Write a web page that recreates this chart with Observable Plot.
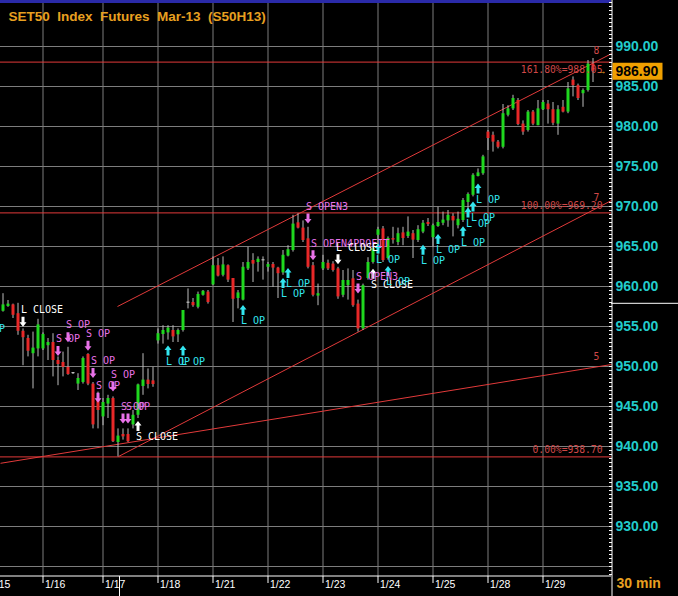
<!DOCTYPE html>
<html><head><meta charset="utf-8">
<script src="https://cdn.jsdelivr.net/npm/d3@7"></script>
<script src="https://cdn.jsdelivr.net/npm/@observablehq/plot@0.6"></script>
<style>
html,body{margin:0;padding:0;background:#000;}
#chart{width:678px;height:596px;overflow:hidden;background:#000;}
</style></head><body><div id="chart"></div>
<script>
// ---- data (30-min bars, index 0 = first visible bar) ----
const opens  = [956.9,957.5,957.7,956.6,954.4,953.5,951.6,952.2, 952.2,952.6,953.0,950.75,950.5,949.9,949.1,947.8,948.0,951.5,947.8,945.75, 943.7,945.3,946.0,940.5,941.5,941.5,942.7,943.9,947.5,948.3,948.2, 953.2,954.0,954.2,954.5,953.96,954.5,957.9,958.0,957.4,958.9,959.3, 960.2,962.6,961.4,962.6,961.0,958.5,958.3,962.2,963.25,963.0,963.2, 962.4,962.75,962.3,961.7,963.8,964.5,967.96,967.3,965.96,962.6,958.8, 962.2,962.9,962.8,962.2,958.9,960.1,960.96,957.8,954.7,961.0,963.0, 966.4,967.2,963.5,966.0,965.5,966.7,966.25,966.6,965.75,966.8,968.0, 966.1,967.5,967.9,968.2,968.75,967.6,968.25,970.5,971.4,973.75,974.1, 979.3,978.9,978.05,977.4,981.4,982.2,983.25,980.3,979.5,981.8,980.1, 982.1,982.8,982.1,980.3,982.4,981.8,985.8,985.1,984.1,984.5,987.8];
const highs  = [959.1,958.25,957.8,957.9,954.7,953.9,954.3,955.9, 954.2,953.5,954.1,951.2,951.8,952.4,949.2,949.1,951.2,951.6,948.0,946.8, 946.0,946.4,946.2,942.2,942.2,942.2,944.5,947.8,951.6,949.7,949.9, 954.7,955.1,955.1,955.1,954.7,957.0,959.7,958.5,959.3,959.5,959.5, 963.7,963.5,963.7,962.7,961.0,959.5,963.0,964.9,964.1,963.7,963.7, 963.0,963.0,962.4,964.5,965.1,968.9,969.1,968.2,967.4,963.0,960.3, 963.9,963.3,963.1,962.4,962.0,962.2,962.0,958.3,960.3,963.6,965.0, 967.4,967.5,966.2,967.4,967.3,967.4,968.7,967.0,967.6,968.25,968.5, 967.8,969.9,969.3,969.5,969.1,969.3,971.0,971.7,974.1,974.7,976.4, 979.5,979.3,978.25,982.75,982.6,983.9,983.5,980.7,982.0,982.0,983.25, 983.25,983.25,983.0,982.6,983.25,985.5,986.2,985.3,984.7,988.25,988.5];
const lows   = [956.8,957.4,956.0,953.9,950.1,951.2,947.2,951.2, 952.0,950.75,948.7,947.6,948.7,948.9,949.0,947.0,947.8,947.6,942.2,942.2, 942.6,943.5,940.5,938.7,940.8,940.5,942.2,943.5,946.4,947.2,947.4, 952.8,952.8,953.3,953.0,953.0,954.3,957.2,957.4,957.2,958.8,957.8, 960.1,961.2,961.2,960.5,955.5,957.2,958.2,962.0,960.5,961.8,960.8, 961.8,959.9,958.5,961.4,963.7,964.3,967.2,965.5,962.2,958.7,957.6, 962.0,962.0,961.8,958.4,958.6,958.3,957.4,954.3,954.5,960.8,962.8, 964.9,963.0,963.3,965.3,965.1,965.1,966.0,963.5,965.5,966.6,967.5, 964.9,967.4,967.6,967.4,966.2,967.2,968.0,969.3,971.2,973.7,973.9, 977.0,976.8,977.2,977.2,981.2,982.0,980.1,978.9,979.3,980.1,980.1, 982.0,980.3,980.1,978.9,981.7,981.6,983.7,983.25,982.4,984.3,985.5];
const closes = [957.7,957.8,956.4,954.4,953.6,951.9,952.3,955.2, 954.0,953.0,950.75,950.25,949.9,949.0,949.1,948.5,951.0,947.8,942.7,944.5, 945.5,946.0,940.6,941.3,941.2,940.6,943.9,947.7,948.3,947.75,947.75, 954.1,954.5,954.8,953.7,954.5,957.0,957.9,957.6,959.0,959.4,958.0, 962.6,961.3,962.7,960.8,958.4,959.2,962.4,963.0,962.8,963.4,963.2, 962.75,962.3,961.6,963.9,964.6,967.8,967.3,965.75,962.4,958.9,959.1, 963.0,962.2,962.0,958.7,960.75,960.75,957.6,954.7,960.1,963.0,964.7, 967.1,963.25,966.0,965.8,966.6,966.0,966.8,965.8,967.1,967.9,967.75, 967.6,968.0,968.3,968.9,968.2,968.4,970.75,971.5,973.9,974.2,976.2, 978.5,978.05,977.4,981.6,982.2,983.5,980.25,979.3,981.8,980.3,982.2, 983.0,982.1,980.4,982.1,981.8,984.7,985.1,983.5,984.5,987.8,986.9];

const dayLabels   = ["1/15","1/16","1/17","1/18","1/21","1/22","1/23","1/24","1/25","1/28","1/29"];
const dayStartIdx = [-3, 8, 20, 31, 42, 53, 64, 75, 86, 97, 108];

const gridTicks  = [925,930,935,940,945,950,955,960,965,970,975,980,985,990];
const labelTicks = [930,935,940,945,950,955,960,965,970,975,980,985,990];

const fibLow = 938.70, fibHigh = 969.20;
const fibPcts = [1.618, 1.0, 0.0];

const trendNames = ["8", "7", "5"];
const trendI1 = [22.9, 23.1, -0.5];
const trendV1 = [957.5, 938.75, 937.9];
const trendI2 = [121.7, 121.7, 121.7];
const trendV2 = [989.1, 970.75, 950.25];

const sigIdx   = [-4, 4, 11, 13, 17, 18, 19, 22, 24, 25, 27, 33, 36, 48, 56, 57, 61, 62, 67, 71, 74, 75, 77, 84, 87, 92, 93, 94, 95];
const sigLabel = ["L OP","L CLOSE","S OP","S OP","S OP","S OP","S OP","S OP","S OP","S OP","S CLOSE","L OP","L OP","L OP","L OP","L OP","S OPEN3","S OPEN4PROFIT","L CLOSE","S OPEN3","S CLOSE","L OP","L OP","L OP","L OP","L OP","L OP","L OP","L OP"];
const sigPrice = [956.1, 955.6, 951.94, 953.66, 952.6, 949.19, 946.1, 947.5, 943.5, 943.5, 942.56, 952.0, 952.0, 957.06, 960.44, 961.7, 968.5, 963.9, 963.4, 959.75, 961.6, 964.75, 961.94, 964.6, 965.94, 966.9, 969.25, 970.0, 972.25];

const title = "SET50  Index  Futures  Mar-13  (S50H13)";
const intervalLabel = "30 min";
const xWindow = [-0.5, 121.7];
const yWindow = [923.75, 995.75];
const cursorIdx = 23.3, cursorPrice = 957.9;

// ---- derived tables ----
const bars = opens.map((o, k) => ({i: k, o, h: highs[k], l: lows[k], c: closes[k]}));
const lastClose = closes[closes.length - 1];
const days = dayLabels.map((label, k) => ({i: dayStartIdx[k], label}));
const fibs = fibPcts.map(p => ({pct: p, value: fibLow + p * (fibHigh - fibLow)}));
const trends = trendNames.map((name, k) => ({name, i1: trendI1[k], v1: trendV1[k], i2: trendI2[k], v2: trendV2[k]}));
const trendLabels = trends.map(t => {
  const i = t.i2 - 3;
  return {name: t.name, i, v: t.v1 + (t.v2 - t.v1) * (i - t.i1) / (t.i2 - t.i1)};
});
const signals = sigIdx.map((i, k) => ({i, label: sigLabel[k], price: sigPrice[k]}));
const isDown = s => s.label.startsWith("S OP") || s.label === "L CLOSE";
const sigColor = s => s.label.includes("CLOSE") ? "#ffffff" : (s.label.startsWith("S") ? "#e872e8" : "#33e6f0");
const downSigs = signals.filter(isDown);
const upSigs = signals.filter(s => !isDown(s));
const minorTicks = d3.range(924, 996, 0.5);

const GREEN = "#1fd81f", RED = "#e82828", GRAYC = "#bdbdbd";
const LINE_RED = "#e23a3a";

const upArrow = {draw(ctx) {
  ctx.moveTo(0, -5); ctx.lineTo(3.5, -0.5); ctx.lineTo(1.5, -0.5); ctx.lineTo(1.5, 5);
  ctx.lineTo(-1.5, 5); ctx.lineTo(-1.5, -0.5); ctx.lineTo(-3.5, -0.5); ctx.closePath();
}};
const downArrow = {draw(ctx) {
  ctx.moveTo(0, 5); ctx.lineTo(3.5, 0.5); ctx.lineTo(1.5, 0.5); ctx.lineTo(1.5, -5);
  ctx.lineTo(-1.5, -5); ctx.lineTo(-1.5, 0.5); ctx.lineTo(-3.5, 0.5); ctx.closePath();
}};
const priceBox = {draw(ctx) { ctx.rect(-25, -8.5, 50, 17); }};

const mono = "DejaVu Sans Mono, monospace";
const sans = "Liberation Sans, Arial, sans-serif";

const chart = Plot.plot({
  width: 678, height: 596,
  marginLeft: 0, marginRight: 67, marginTop: 0, marginBottom: 20,
  style: {background: "#000", color: "#fff"},
  x: {domain: xWindow, axis: null},
  y: {domain: yWindow, axis: null},
  color: {type: "identity"},
  marks: [
    // grid
    Plot.ruleY(gridTicks, {stroke: "#7d7d7d"}),
    Plot.ruleX(dayStartIdx, {stroke: "#7d7d7d"}),
    // top border
    Plot.ruleY([yWindow[1]], {stroke: "#2a2aa8", strokeWidth: 5}),
    // fibonacci levels
    Plot.ruleY(fibs, {y: "value", stroke: LINE_RED}),
    // trend lines
    Plot.link(trends, {x1: "i1", y1: "v1", x2: "i2", y2: "v2", stroke: LINE_RED}),
    // candles
    Plot.ruleX(bars, {x: "i", y1: "l", y2: "h", stroke: GRAYC}),
    Plot.ruleX(bars, {x: "i", y1: "o", y2: d => d.c === d.o ? d.c + 0.15 : d.c,
      stroke: d => d.c > d.o ? GREEN : d.c < d.o ? RED : GRAYC, strokeWidth: 3}),
    // fib labels
    Plot.text(fibs.filter(f => f.pct > 1), {y: "value", text: f => `${(f.pct*100).toFixed(2)}%=${f.value.toFixed(2)}`,
      frameAnchor: "right", textAnchor: "end", dx: -9, dy: 8, fill: "#d04848", fontFamily: mono, fontSize: 9.7}),
    Plot.text(fibs.filter(f => f.pct <= 1), {y: "value", text: f => `${(f.pct*100).toFixed(2)}%=${f.value.toFixed(2)}`,
      frameAnchor: "right", textAnchor: "end", dx: -9, dy: -7, fill: "#d04848", fontFamily: mono, fontSize: 9.7}),
    // trend labels
    Plot.text(trendLabels, {x: "i", y: "v", text: "name", dy: -10, fill: "#d04848", fontFamily: mono, fontSize: 9.7}),
    // signals
    Plot.dot(downSigs, {x: "i", y: "price", symbol: downArrow, r: 4, fill: sigColor, stroke: null}),
    Plot.dot(upSigs, {x: "i", y: "price", symbol: upArrow, r: 4, fill: sigColor, stroke: null}),
    Plot.text(downSigs, {x: "i", y: "price", text: "label", dx: -2, dy: -12, textAnchor: "start",
      fill: sigColor, fontFamily: mono, fontSize: 10}),
    Plot.text(upSigs, {x: "i", y: "price", text: "label", dx: -2, dy: 11, textAnchor: "start",
      fill: sigColor, fontFamily: mono, fontSize: 10}),
    // right axis
    Plot.ruleX([xWindow[1]], {stroke: "#fff", dx: 0.5, insetBottom: -20}),
    Plot.axisY({ticks: minorTicks, anchor: "right", tickSize: 3, dx: -3, tickFormat: () => "", stroke: "#fff"}),
    Plot.text(labelTicks, {y: d => d, text: d => d.toFixed(2), frameAnchor: "right", textAnchor: "start", dx: 4,
      fill: "#22cccc", fontSize: 14, fontWeight: "bold", fontFamily: sans}),
    // last price box
    Plot.dot([lastClose], {y: d => d, frameAnchor: "right", dx: 26, symbol: priceBox, r: 4, fill: "#f0a000", stroke: null}),
    Plot.text([lastClose], {y: d => d, text: d => d.toFixed(2), frameAnchor: "right", textAnchor: "start", dx: 4,
      fill: "#000", fontSize: 14, fontWeight: "bold", fontFamily: sans}),
    Plot.text([lastClose], {y: d => d, text: () => "→", frameAnchor: "right", dx: -5, fill: "#e8a020", fontSize: 9}),
    // bottom axis
    Plot.ruleY([yWindow[0]], {stroke: "#fff", dy: -0.5}),
    Plot.axisX({ticks: dayStartIdx, tickSize: 7, tickFormat: () => "", stroke: "#fff"}),
    Plot.text(days, {x: "i", text: "label", frameAnchor: "bottom", dx: 2, dy: 11, textAnchor: "start",
      fill: "#fff", fontSize: 10.5, fontFamily: sans}),
    // cursor
    Plot.ruleY([cursorPrice], {stroke: "#fff", insetLeft: 611, insetRight: -67}),
    Plot.ruleX([cursorIdx], {stroke: "#fff", insetTop: 576, insetBottom: -20}),
    // title and interval
    Plot.text([title], {frameAnchor: "top-left", dx: 8, dy: 11, textAnchor: "start", fill: "#e8a020",
      fontWeight: "bold", fontSize: 13.5, fontFamily: sans}),
    Plot.text([intervalLabel], {frameAnchor: "bottom-right", dx: 5, dy: 11, textAnchor: "start", fill: "#e8a020",
      fontWeight: "bold", fontSize: 14, fontFamily: sans})
  ]
});
document.getElementById("chart").appendChild(chart);
</script>
</body></html>
